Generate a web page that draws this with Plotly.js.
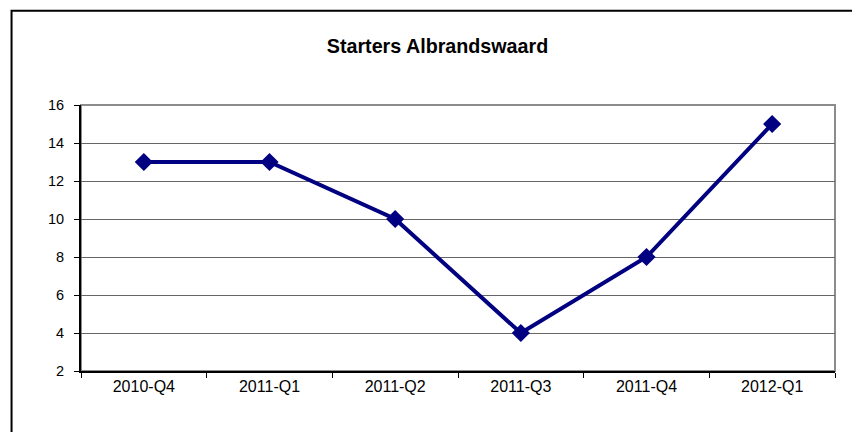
<!DOCTYPE html>
<html>
<head>
<meta charset="utf-8">
<script src="https://cdn.plot.ly/plotly-3.0.1.min.js"></script>
<style>html,body{margin:0;padding:0;background:#fff;}#chart{width:852px;height:432px;}</style>
</head>
<body>
<div id="chart"></div>
<script>
const categories = ["2010-Q4", "2011-Q1", "2011-Q2", "2011-Q3", "2011-Q4", "2012-Q1"];
const starters = [13, 13, 10, 4, 8, 15];
const yTicks = [2, 4, 6, 8, 10, 12, 14, 16];

const W = 852, H = 432;
const L = 81, R = 16.5, T = 105, B = 60.5;
const pw = W - L - R, ph = H - T - B;
const px = x => (x - L) / pw;
const py = y => (H - B - y) / ph;

const trace = {
  x: categories,
  y: starters,
  type: "scatter",
  mode: "lines+markers",
  line: {color: "#000080", width: 4},
  marker: {symbol: "diamond", size: 14, color: "#000080"},
  hoverinfo: "x+y",
  cliponaxis: false
};

const layout = {
  width: W, height: H,
  margin: {l: L, r: R, t: T, b: B, pad: 0},
  paper_bgcolor: "#fff", plot_bgcolor: "#fff",
  showlegend: false,
  font: {family: "Liberation Sans, Arial, sans-serif", color: "#000"},
  title: {
    text: "<b>Starters Albrandswaard</b>",
    font: {size: 19.7, family: "Liberation Sans, Arial, sans-serif", color: "#000"},
    x: 437.5 / W, xanchor: "center", xref: "container",
    y: 1 - 46 / H, yanchor: "middle", yref: "container"
  },
  xaxis: {
    type: "category",
    tickson: "boundaries",
    ticks: "outside", ticklen: 5, tickwidth: 1, tickcolor: "#000",
    showline: true, linecolor: "#000", linewidth: 2,
    showgrid: false, zeroline: false,
    tickfont: {size: 16, family: "Liberation Sans, Arial, sans-serif", color: "#000"},
    range: [-0.5, categories.length - 0.5]
  },
  yaxis: {
    range: [2, 16],
    tickvals: yTicks,
    ticktext: yTicks.map(String),
    ticks: "outside", ticklen: 5, tickwidth: 1, tickcolor: "#000",
    ticklabelstandoff: 7,
    showline: true, linecolor: "#000", linewidth: 2,
    showgrid: true, gridcolor: "#666", gridwidth: 1,
    zeroline: false,
    tickfont: {size: 14.5, family: "Liberation Sans, Arial, sans-serif", color: "#000"}
  },
  shapes: [
    {type: "rect", xref: "paper", yref: "paper", x0: 0, x1: 1, y0: 0, y1: 1,
     line: {color: "#8c8c8c", width: 2}, layer: "below"},
    {type: "rect", xref: "paper", yref: "paper",
     x0: px(11.5), x1: px(W + 20), y0: py(H + 20), y1: py(10.5),
     line: {color: "#000", width: 2}, fillcolor: "rgba(0,0,0,0)", layer: "above"}
  ]
};

Plotly.newPlot("chart", [trace], layout, {displayModeBar: false, staticPlot: true});
</script>
</body>
</html>
